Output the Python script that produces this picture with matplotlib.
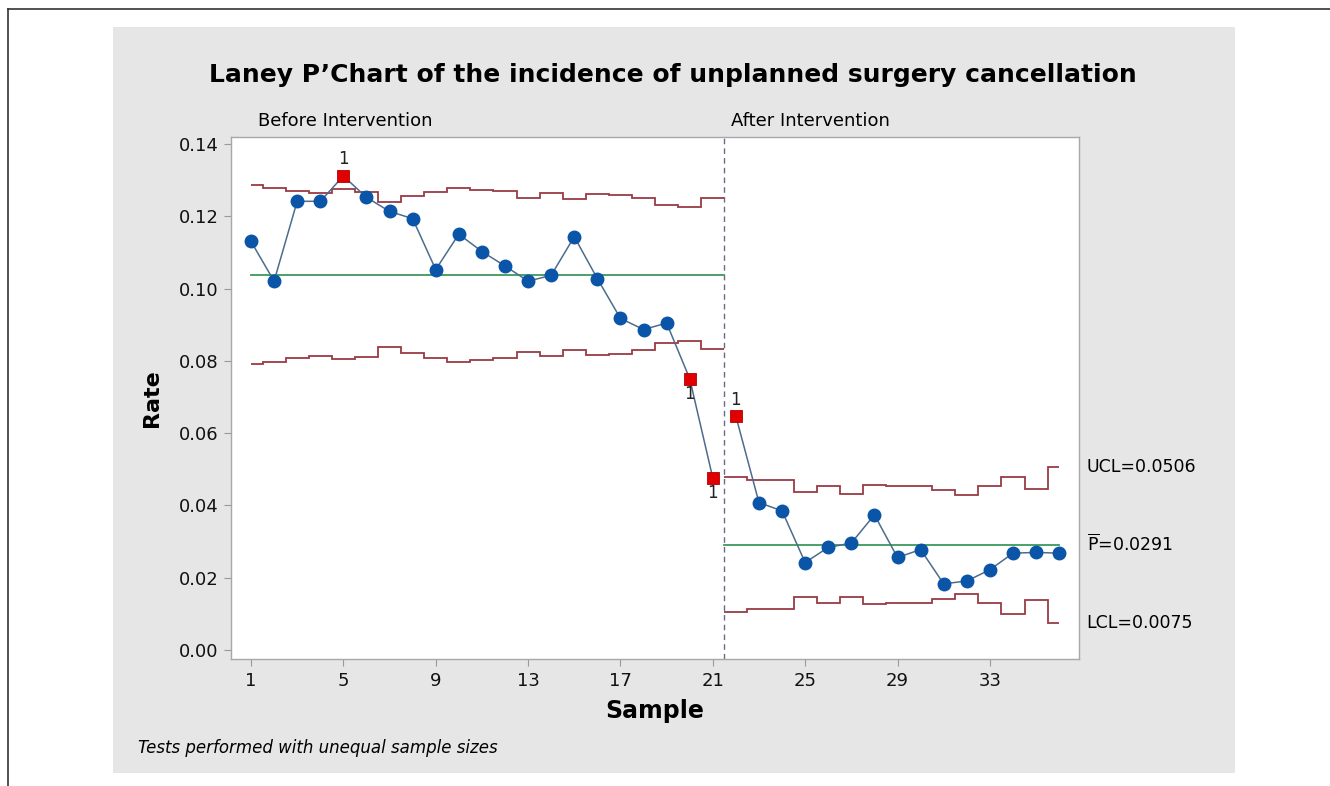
import numpy as np
import matplotlib
matplotlib.use("Agg")
import matplotlib.pyplot as plt
from matplotlib.patches import Rectangle
from matplotlib.lines import Line2D

# ---------------- data ----------------
before_samples = list(range(1, 22))
after_samples = list(range(22, 37))
before_rate = [0.1131, 0.1021, 0.1242, 0.1242, 0.1312, 0.1253, 0.1214, 0.1194, 0.1053, 0.1151,
               0.1103, 0.1063, 0.1021, 0.1037, 0.1144, 0.1028, 0.0918, 0.0887, 0.0905, 0.0751, 0.0476]
after_rate = [0.0647, 0.0408, 0.0385, 0.0242, 0.0284, 0.0296, 0.0374, 0.0256, 0.0278, 0.0183,
              0.0191, 0.0222, 0.0268, 0.0270, 0.0268]
ucl_before = [0.1286, 0.1280, 0.1271, 0.1266, 0.1275, 0.1268, 0.1240, 0.1257, 0.1269, 0.1280,
              0.1273, 0.1270, 0.1252, 0.1264, 0.1247, 0.1261, 0.1259, 0.1252, 0.1231, 0.1225, 0.1250]
lcl_before = [0.0792, 0.0798, 0.0808, 0.0814, 0.0805, 0.0811, 0.0840, 0.0822, 0.0809, 0.0798,
              0.0804, 0.0809, 0.0825, 0.0815, 0.0831, 0.0817, 0.0820, 0.0829, 0.0850, 0.0854, 0.0832]
ucl_after = [0.0479, 0.0471, 0.0471, 0.0436, 0.0453, 0.0433, 0.0456, 0.0453, 0.0453, 0.0442,
             0.0428, 0.0453, 0.0480, 0.0446, 0.0506]
lcl_after = [0.0104, 0.0113, 0.0113, 0.0146, 0.0129, 0.0148, 0.0127, 0.0131, 0.0131, 0.0141,
             0.0154, 0.0129, 0.0100, 0.0139, 0.0075]
center_before = 0.1039
center_after = 0.0291
stage_labels = ["Before Intervention", "After Intervention"]
x_ticks = [1, 5, 9, 13, 17, 21, 25, 29, 33]
y_ticks = [0.00, 0.02, 0.04, 0.06, 0.08, 0.10, 0.12, 0.14]
ucl_text = "UCL=0.0506"
p_text = r"$\overline{\mathrm{P}}$=0.0291"
lcl_text = "LCL=0.0075"
title = "Laney P\u2019Chart of the incidence of unplanned surgery cancellation"
footnote = "Tests performed with unequal sample sizes"

# ---------------- style ----------------
BLUE = "#0a55a8"
LINE = "#4d6c8c"
RED = "#e00000"
LIMIT = "#9a3a44"
GREEN = "#3a9a5c"
PANEL = "#e6e6e6"

fig = plt.figure(figsize=(13.3, 7.86), dpi=100)
fig.patch.set_facecolor("white")

# gray panel and outer frame lines
fig.add_artist(Rectangle((113 / 1330, 1 - 773 / 786), (1235 - 113) / 1330, (773 - 27) / 786,
                         transform=fig.transFigure, facecolor=PANEL, edgecolor="none", zorder=-10))
fig.add_artist(Line2D([8 / 1330, 1.0], [1 - 9 / 786, 1 - 9 / 786], transform=fig.transFigure,
                      color="#333333", lw=1.2))
fig.add_artist(Line2D([8 / 1330, 8 / 1330], [0, 1 - 9 / 786], transform=fig.transFigure,
                      color="#333333", lw=1.2))

ax = fig.add_axes([231 / 1330, 1 - 659 / 786, (1079 - 231) / 1330, (659 - 137) / 786])
ax.set_facecolor("white")

split = 21.5
edges_before = np.concatenate([[before_samples[0]], np.array(before_samples[:-1]) + 0.5, [split]])
edges_after = np.concatenate([[split], np.array(after_samples[:-1]) + 0.5, [after_samples[-1]]])

for vals, edges in [(ucl_before, edges_before), (lcl_before, edges_before),
                    (ucl_after, edges_after), (lcl_after, edges_after)]:
    ax.stairs(vals, edges, baseline=None, color=LIMIT, lw=1.3, zorder=2)

ax.plot([before_samples[0], split], [center_before] * 2, color=GREEN, lw=1.3, zorder=2)
ax.plot([split, after_samples[-1]], [center_after] * 2, color=GREEN, lw=1.3, zorder=2)

ax.axvline(split, color="#6a6a88", lw=1.0, ls=(0, (4, 3)), zorder=1)

for xs, ys, ucl, lcl in [(before_samples, before_rate, ucl_before, lcl_before),
                         (after_samples, after_rate, ucl_after, lcl_after)]:
    ax.plot(xs, ys, color=LINE, lw=1.1, zorder=3)
    for x, y, u, l in zip(xs, ys, ucl, lcl):
        if y > u or y < l:
            ax.plot(x, y, marker="s", ms=8.5, mfc=RED, mec="#b00000", mew=0.6, ls="none", zorder=4)
            off = 12 if y > u else -11
            ax.annotate("1", (x, y), xytext=(0, off), textcoords="offset points",
                        ha="center", va="center", fontsize=12, color="#222222")
        else:
            ax.plot(x, y, marker="o", ms=9, mfc=BLUE, mec=BLUE, ls="none", zorder=4)

ax.set_xlim(0.134, 36.86)
ax.set_ylim(-0.0025, 0.142)
ax.set_xticks(x_ticks)
ax.set_xticklabels([str(t) for t in x_ticks])
ax.set_yticks(y_ticks)
ax.set_yticklabels([f"{t:.2f}" for t in y_ticks])
ax.tick_params(axis="both", direction="out", length=5, width=0.8, color="#9a9a9a",
               labelsize=13, labelcolor="#111111", pad=4)
for s in ax.spines.values():
    s.set_color("#a8a8a8")
    s.set_linewidth(1.0)

ax.set_xlabel("Sample", fontsize=17, fontweight="bold", labelpad=7)
ax.set_ylabel("Rate", fontsize=16, fontweight="bold", labelpad=12)

# stage labels
ax.text(1.3, 1.014, stage_labels[0], transform=ax.get_xaxis_transform(), ha="left", va="bottom",
        fontsize=13)
ax.text(split + 0.3, 1.014, stage_labels[1], transform=ax.get_xaxis_transform(), ha="left",
        va="bottom", fontsize=13)

# limit labels
tr = ax.get_yaxis_transform()
ax.text(1.009, ucl_after[-1], ucl_text, transform=tr, ha="left", va="center", fontsize=12.5)
ax.text(1.009, center_after, p_text, transform=tr, ha="left", va="center", fontsize=12.5)
ax.text(1.009, lcl_after[-1], lcl_text, transform=tr, ha="left", va="center", fontsize=12.5)

fig.text(673 / 1330, 1 - 75 / 786, title, ha="center", va="center", fontsize=18,
         fontweight="bold")
fig.text(138 / 1330, 1 - 748 / 786, footnote, ha="left", va="center", fontsize=12,
         style="italic")

fig.savefig("out.png", dpi=100)
